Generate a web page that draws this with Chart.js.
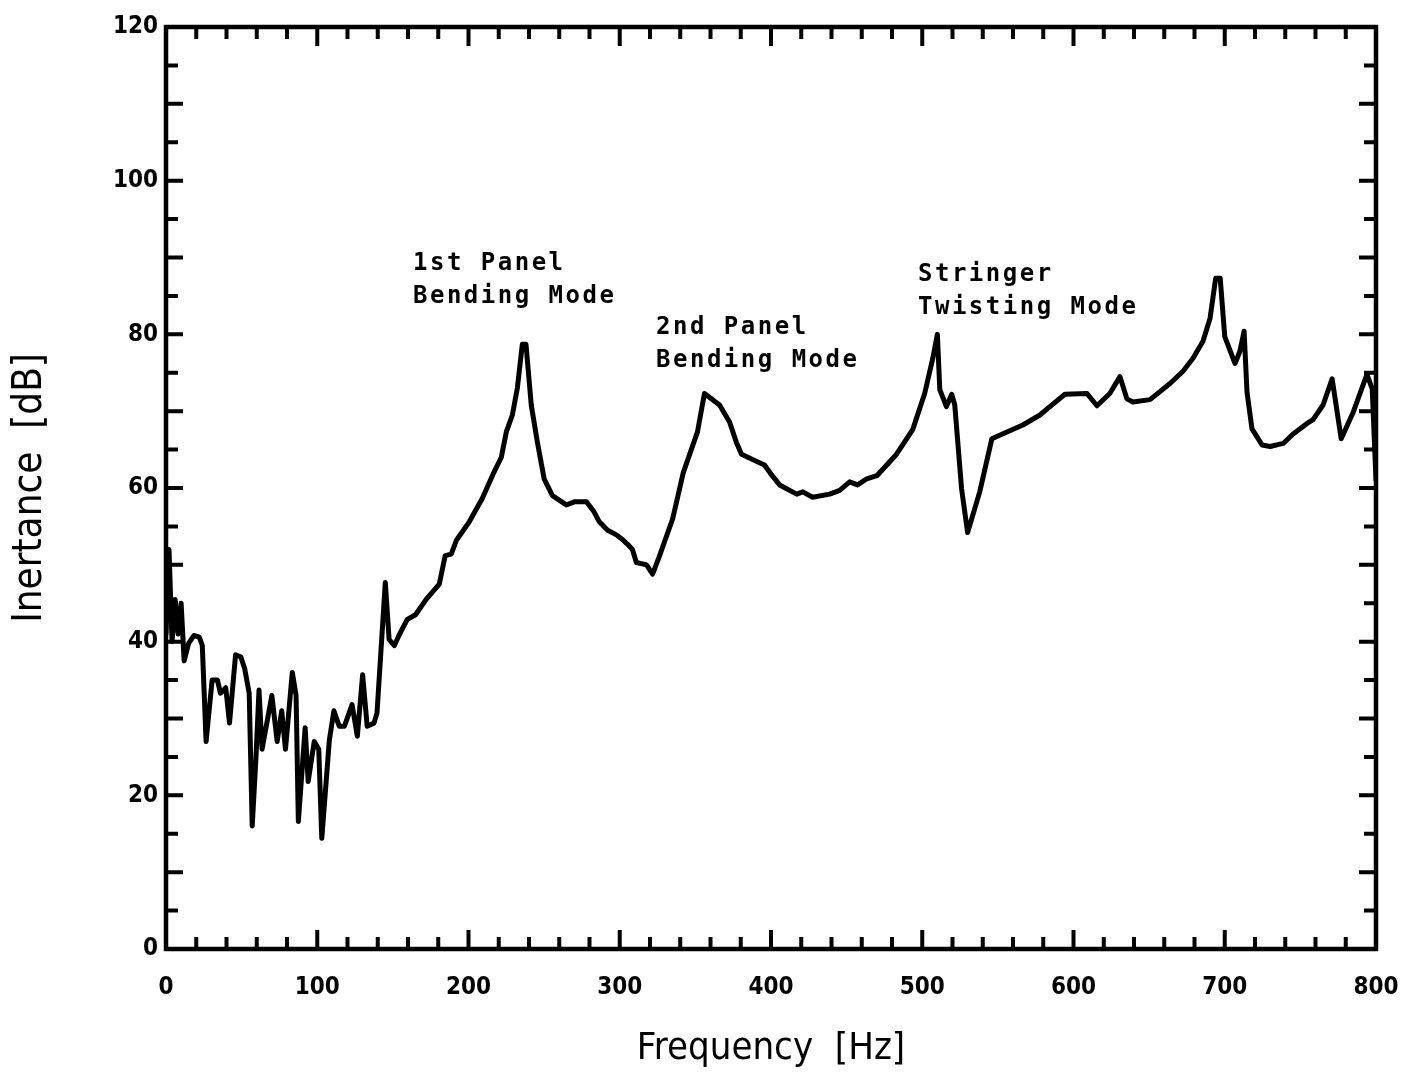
<!DOCTYPE html>
<html>
<head>
<meta charset="utf-8">
<script src="https://cdn.jsdelivr.net/npm/chart.js@4.4.1/dist/chart.umd.min.js"></script>
<style>
  html, body { margin: 0; padding: 0; background: #fff; }
  #wrap { width: 1403px; height: 1074px; }
</style>
</head>
<body>
<div id="wrap"><canvas id="myChart" width="1403" height="1074"></canvas></div>
<script>
// measured inertance spectrum
const freqHz = [
  0, 2, 4, 6, 8, 10, 12, 15, 18.5, 22, 24, 26.5, 30.5, 34, 36, 39.5, 42, 46, 49.5, 52,
  55, 57, 59.5, 61.5, 63.5, 70, 73.5, 76.5, 79, 83.5, 86, 87.5, 92, 94, 98, 101, 103,
  108, 111, 114.5, 118, 123, 126.5, 130, 133, 137.5, 139.5, 145, 147.5, 151, 154, 159.5,
  165, 172, 180.7, 184.6, 188.6, 192, 200.5, 209, 216, 221.7, 225, 229, 232.3, 235.6,
  238, 241.5, 245.5, 250, 255.5, 264.7, 270, 278, 283, 286.5, 292, 297.8, 301.8, 305,
  308.4, 311, 317.7, 321.7, 326, 335, 342, 351.4, 356, 366, 372.6, 377, 380.5, 387.8,
  395.7, 400.4, 405.7, 417, 421, 427.5, 438.8, 445.4, 452, 457.3, 463.3, 470, 483,
  493.7, 501.6, 507, 510, 511.6, 516, 519.5, 521.5, 526, 530, 538, 546, 556, 566.5,
  577.8, 584.4, 594.3, 608.9, 615.5, 624, 630.7, 635.3, 639.3, 650.6, 663.8, 672.4,
  679, 685.6, 690.3, 694, 697, 700, 706.8, 710, 712.8, 714.7, 718, 724.7, 730, 738.6,
  745, 754.4, 758.4, 765, 771, 777, 785, 794, 797.5, 800
];
const inertanceDb = [
  41, 52, 40, 45.5, 41, 45, 37.5, 39.8, 40.8, 40.6, 39.5, 27, 35, 35, 33.3, 34, 29.4, 38.3, 38, 36.5,
  33.3, 16, 25, 33.7, 26, 33, 27, 31, 26, 36, 33, 16.6, 28.8, 21.8, 27, 26, 14.4,
  27.2, 31, 29, 29, 31.8, 27.7, 35.7, 29, 29.4, 30.7, 47.7, 40.3, 39.5, 40.8, 42.9,
  43.5, 45.5, 47.5, 51.2, 51.4, 53.2, 55.6, 58.6, 61.7, 64, 67.3, 69.5, 73, 78.7,
  78.7, 70.8, 66, 61.2, 59, 57.8, 58.2, 58.2, 56.9, 55.6, 54.5, 53.9, 53.3, 52.7,
  52, 50.3, 50, 48.8, 51, 56, 62, 67.3, 72.3, 70.8, 68.6, 66, 64.4, 63.7,
  63, 61.7, 60.4, 59.2, 59.5, 58.8, 59.2, 59.7, 60.8, 60.4, 61.2, 61.6, 64.4,
  67.6, 72.3, 76.9, 80, 72.8, 70.6, 72.2, 70.8, 59.9, 54.2, 59.5, 66.4, 67.3, 68.2,
  69.5, 70.6, 72.2, 72.3, 70.7, 72.3, 74.5, 71.6, 71.2, 71.5, 73.6, 75.2,
  76.9, 79.1, 82.1, 87.3, 87.3, 79.7, 76.2, 77.8, 80.4, 72.5, 67.7, 65.6, 65.4, 65.8,
  67, 68.4, 68.9, 70.8, 74.2, 66.4, 69.9, 74.8, 72.9, 61
];

const xTicks = [0, 100, 200, 300, 400, 500, 600, 700, 800];
const yTicks = [0, 20, 40, 60, 80, 100, 120];

// mode labels: first line anchor (Hz, dB), then line text
const modeLabels = [
  { f: 163.3, db: 88.4, lines: ['1st Panel', 'Bending Mode'] },
  { f: 324, db: 80.0, lines: ['2nd Panel', 'Bending Mode'] },
  { f: 497.2, db: 86.9, lines: ['Stringer', 'Twisting Mode'] }
];

const points = freqHz.map((f, i) => ({ x: f, y: inertanceDb[i] }));

const tickFont = { family: "'Liberation Sans Narrow', 'DejaVu Sans Condensed', sans-serif", size: 24, weight: 'bold' };
const xTitleFont = { family: "'DejaVu Sans Condensed', 'Liberation Sans Narrow', sans-serif", size: 38 };
const yTitleFont = { family: "'DejaVu Sans Condensed', 'Liberation Sans Narrow', sans-serif", size: 40 };

// box frame with inward tick marks on all four sides
const framePlugin = {
  id: 'frame',
  afterDraw(chart) {
    const { ctx, chartArea: a, scales } = chart;
    const xs = scales.x, ys = scales.y;
    ctx.save();
    ctx.strokeStyle = '#000';
    ctx.lineWidth = 4.5;
    ctx.strokeRect(a.left, a.top, a.right - a.left, a.bottom - a.top);
    ctx.lineWidth = 4;
    ctx.beginPath();
    for (let f = 20; f < 800; f += 20) {
      const px = xs.getPixelForValue(f);
      const len = f % 100 === 0 ? 19 : 12;
      ctx.moveTo(px, a.bottom); ctx.lineTo(px, a.bottom - len);
      ctx.moveTo(px, a.top); ctx.lineTo(px, a.top + len);
    }
    for (let d = 5; d < 120; d += 5) {
      const py = ys.getPixelForValue(d);
      const len = d % 10 === 0 ? 17 : 12;
      ctx.moveTo(a.left, py); ctx.lineTo(a.left + len, py);
      ctx.moveTo(a.right, py); ctx.lineTo(a.right - len, py);
    }
    ctx.stroke();

    // mode annotations
    ctx.fillStyle = '#000';
    ctx.font = "bold 24px 'DejaVu Sans Mono', monospace";
    ctx.letterSpacing = '2.5px';
    ctx.textBaseline = 'alphabetic';
    ctx.textAlign = 'left';
    modeLabels.forEach(m => {
      const px = xs.getPixelForValue(m.f);
      const py = ys.getPixelForValue(m.db);
      m.lines.forEach((t, i) => ctx.fillText(t, px, py + i * 33));
    });
    ctx.restore();
  }
};

const ctx = document.getElementById('myChart');
const myChart = new Chart(ctx, {
  type: 'line',
  data: {
    datasets: [{
      data: points,
      borderColor: '#000',
      borderWidth: 5,
      pointRadius: 0,
      tension: 0,
      fill: false,
      borderJoinStyle: 'round',
      borderCapStyle: 'round'
    }]
  },
  options: {
    responsive: false,
    devicePixelRatio: 1,
    animation: false,
    events: [],
    layout: { padding: { top: 27, right: 27, left: 0, bottom: 0 } },
    plugins: {
      legend: { display: false },
      tooltip: { enabled: false }
    },
    scales: {
      x: {
        type: 'linear',
        min: 0,
        max: 800,
        grid: { display: false, drawTicks: false },
        border: { display: false },
        afterBuildTicks(scale) { scale.ticks = xTicks.map(v => ({ value: v })); },
        afterFit(scale) {
          scale.height = 125;
          scale.paddingLeft = 0;
          scale.paddingRight = 0;
        },
        ticks: { color: '#000', font: tickFont, padding: 24, maxRotation: 0 },
        title: {
          display: true,
          text: 'Frequency  [Hz]',
          color: '#000',
          font: xTitleFont,
          padding: { top: 2, bottom: 2 }
        }
      },
      y: {
        type: 'linear',
        min: 0,
        max: 120,
        grid: { display: false, drawTicks: false },
        border: { display: false },
        afterBuildTicks(scale) { scale.ticks = yTicks.map(v => ({ value: v })); },
        afterFit(scale) {
          scale.width = 166;
          scale.paddingTop = 0;
          scale.paddingBottom = 0;
        },
        ticks: { color: '#000', font: tickFont, padding: 8 },
        title: {
          display: true,
          text: 'Inertance  [dB]',
          color: '#000',
          font: yTitleFont,
          padding: { top: 7, bottom: 7 }
        }
      }
    }
  },
  plugins: [framePlugin]
});
</script>
</body>
</html>
